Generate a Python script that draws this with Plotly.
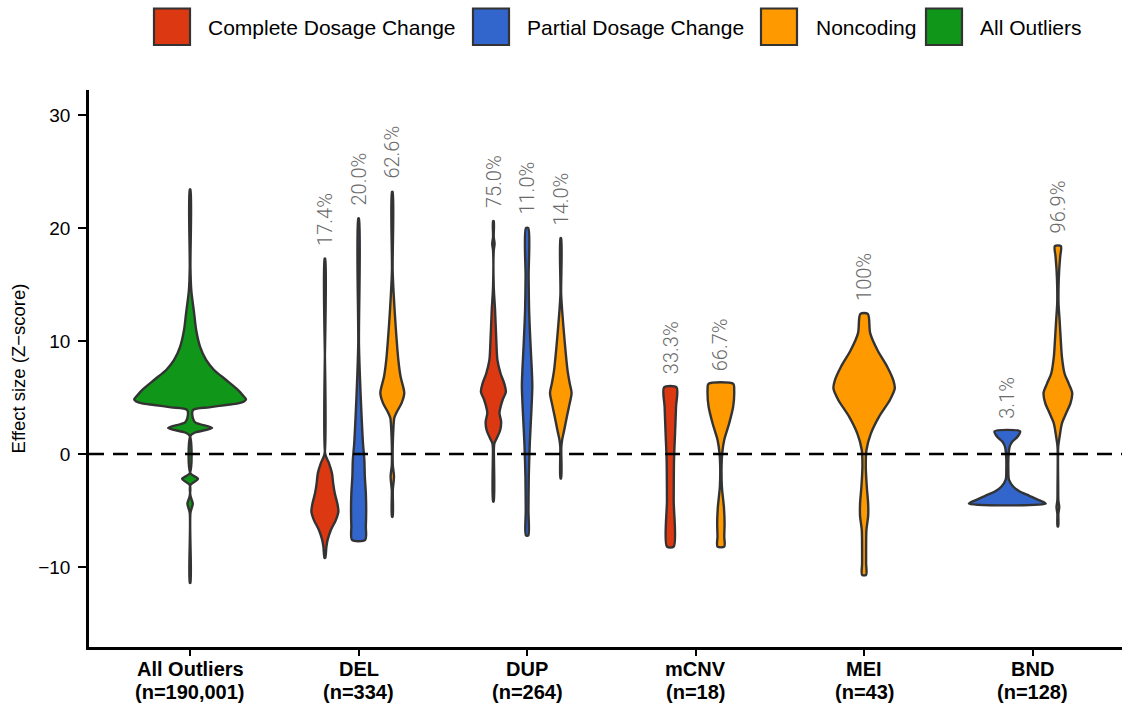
import plotly.graph_objects as go

# ---- categories and labels ----
CATEGORIES = ["All Outliers", "DEL", "DUP", "mCNV", "MEI", "BND"]
CATEGORY_N = ["190,001", "334", "264", "18", "43", "128"]
CLASSES = ["Complete Dosage Change", "Partial Dosage Change", "Noncoding", "All Outliers"]
CLASS_COLORS = ["#DC3912", "#3366CC", "#FF9900", "#109618"]

# ---- violin density profiles: Z-score grid and half-width (category units) ----
all_z = [-11.4, -5.2, -4.4, -3.7, -2.75, -2.2, -1.7, 1.6, 1.9, 2.3, 2.8, 3.2, 3.9, 4.13, 4.34,
         4.48, 4.65, 4.85, 5.07, 5.66, 6.55, 7.43, 8.32, 9.5, 10.97, 12.45, 14.5, 16.5, 23.4]
all_w = [0.002, 0.002, 0.016, 0.002, 0.002, 0.047, 0.002, 0.002, 0.030, 0.131, 0.030, 0.016, 0.018,
         0.113, 0.214, 0.285, 0.320, 0.332, 0.320, 0.285, 0.214, 0.142, 0.095, 0.059, 0.036, 0.024,
         0.007, 0.002, 0.002]

del_complete_z = [-9.2, -8.2, -7.6, -6.7, -5.85, -5.1, -4.4, -3.5, -2.6, -1.7, -0.8, 0.0, 17.3]
del_complete_w = [0.002, 0.009, 0.016, 0.036, 0.065, 0.080, 0.074, 0.059, 0.049, 0.042, 0.024, 0.002, 0.002]

del_partial_z = [-7.6, -6.4, -5.0, -3.5, -2.0, -0.5, 0.95, 3.9, 6.8, 9.8, 20.85]
del_partial_w = [0.039, 0.043, 0.045, 0.043, 0.037, 0.034, 0.026, 0.016, 0.008, 0.002, 0.002]

del_noncoding_z = [-5.55, -3.2, -2.0, -1.0, 0.0, 0.95, 2.1, 3.2, 3.7, 4.5, 5.4, 6.85, 8.3, 11.3, 14.2, 16.3, 23.2]
del_noncoding_w = [0.002, 0.003, 0.010, 0.003, 0.002, 0.003, 0.006, 0.012, 0.026, 0.055, 0.071, 0.049, 0.036,
                   0.020, 0.008, 0.002, 0.002]

dup_complete_z = [-4.2, 0.5, 0.95, 1.4, 2.1, 2.85, 3.6, 4.0, 4.8, 5.5, 6.25, 7.1, 8.3, 9.8, 12.7, 14.8,
                  18.0, 18.6, 19.2, 20.6]
dup_complete_w = [0.002, 0.003, 0.006, 0.020, 0.040, 0.046, 0.036, 0.040, 0.055, 0.074, 0.064, 0.043, 0.024,
                  0.018, 0.010, 0.002, 0.002, 0.007, 0.002, 0.002]

dup_partial_z = [-7.2, -5.0, -2.0, 0.95, 4.0, 6.0, 7.4, 9.8, 12.7, 15.7, 20.0]
dup_partial_w = [0.007, 0.008, 0.010, 0.016, 0.026, 0.031, 0.028, 0.020, 0.012, 0.009, 0.007]

dup_noncoding_z = [-2.15, 0.6, 1.25, 2.1, 3.3, 4.5, 5.4, 6.25, 7.4, 9.8, 12.7, 14.2, 19.1]
dup_noncoding_w = [0.002, 0.003, 0.008, 0.020, 0.036, 0.053, 0.064, 0.053, 0.040, 0.024, 0.008, 0.002, 0.002]

mcnv_complete_z = [-8.2, -4.1, -0.5, 1.8, 4.2, 5.9]
mcnv_complete_w = [0.020, 0.020, 0.022, 0.028, 0.034, 0.037]

mcnv_noncoding_z = [-8.2, -7.3, -6.1, -4.7, -2.9, -1.1, 0.05, 1.25, 2.7, 4.2, 5.65, 6.2]
mcnv_noncoding_w = [0.020, 0.020, 0.022, 0.018, 0.006, 0.004, 0.008, 0.020, 0.049, 0.073, 0.079, 0.074]

mei_noncoding_z = [-10.7, -9.7, -8.2, -6.7, -5.5, -4.4, -2.9, -1.1, 0.35, 1.8, 3.3, 4.8, 5.8, 6.5,
                   7.7, 9.2, 10.7, 12.4]
mei_noncoding_w = [0.012, 0.012, 0.012, 0.014, 0.024, 0.024, 0.016, 0.010, 0.014, 0.040, 0.089, 0.154,
                   0.182, 0.174, 0.138, 0.079, 0.036, 0.022]

bnd_partial_z = [-4.4, -4.1, -3.7, -3.3, -2.9, -2.3, -1.4, 0.05, 0.65, 1.1, 1.5, 2.0]
bnd_partial_w = [0.228, 0.190, 0.131, 0.071, 0.036, 0.010, 0.006, 0.008, 0.014, 0.030, 0.059, 0.076]

bnd_noncoding_z = [-6.4, -5.3, -4.7, -4.1, -2.9, 0.6, 1.5, 2.7, 3.6, 4.5, 5.4, 6.25, 7.1, 8.6, 10.4,
                   11.9, 13.3, 14.8, 16.3, 17.5, 18.4]
bnd_noncoding_w = [0.002, 0.003, 0.008, 0.003, 0.002, 0.002, 0.010, 0.024, 0.049, 0.075, 0.085, 0.064,
                   0.040, 0.024, 0.016, 0.010, 0.004, 0.004, 0.008, 0.014, 0.018]

# share of each SV class within its category
del_pct = ["17.4%", "20.0%", "62.6%"]
dup_pct = ["75.0%", "11.0%", "14.0%"]
mcnv_pct = ["33.3%", "66.7%"]
mei_pct = ["100%"]
bnd_pct = ["3.1%", "96.9%"]

# (category, class index, percent label, z grid, half-widths)
VIOLINS = [
    ("All Outliers", 3, None, all_z, all_w),
    ("DEL", 0, del_pct[0], del_complete_z, del_complete_w),
    ("DEL", 1, del_pct[1], del_partial_z, del_partial_w),
    ("DEL", 2, del_pct[2], del_noncoding_z, del_noncoding_w),
    ("DUP", 0, dup_pct[0], dup_complete_z, dup_complete_w),
    ("DUP", 1, dup_pct[1], dup_partial_z, dup_partial_w),
    ("DUP", 2, dup_pct[2], dup_noncoding_z, dup_noncoding_w),
    ("mCNV", 0, mcnv_pct[0], mcnv_complete_z, mcnv_complete_w),
    ("mCNV", 2, mcnv_pct[1], mcnv_noncoding_z, mcnv_noncoding_w),
    ("MEI", 2, mei_pct[0], mei_noncoding_z, mei_noncoding_w),
    ("BND", 1, bnd_pct[0], bnd_partial_z, bnd_partial_w),
    ("BND", 2, bnd_pct[1], bnd_noncoding_z, bnd_noncoding_w),
]

DODGE_WIDTH = 0.6
OUTLINE = "#333333"
SANS = "Liberation Sans, Arial, Helvetica, sans-serif"

fig = go.Figure()
annotations = []

for cat in CATEGORIES:
    group = [v for v in VIOLINS if v[0] == cat]
    n = len(group)
    base = CATEGORIES.index(cat) + 1
    for i, (_, cls, pct, z, w) in enumerate(group):
        cx = base + (i - (n - 1) / 2) * DODGE_WIDTH / n
        xs = [cx + h for h in w] + [cx - h for h in reversed(w)]
        ys = list(z) + list(reversed(z))
        xs.append(xs[0])
        ys.append(ys[0])
        fig.add_trace(go.Scatter(
            x=xs, y=ys, mode="lines", fill="toself",
            fillcolor=CLASS_COLORS[cls],
            line=dict(color=OUTLINE, width=2.4, shape="spline", smoothing=0.8),
            showlegend=False, hoverinfo="skip",
        ))
        if pct is not None:
            annotations.append(dict(
                x=cx, y=max(z), xref="x", yref="y", text=pct, textangle=-90,
                showarrow=False, xanchor="center", yanchor="bottom", yshift=11,
                font=dict(family="Roboto, Liberation Sans, sans-serif", size=20,
                          color="#6a6a6a", weight=300),
            ))

# ---- plot-area geometry in pixels (used for paper-coordinate placement) ----
L, T, PW, PH = 89, 90, 1033, 557


def px_x(p):
    return (p - L) / PW


def px_y(p):
    return (T + PH - p) / PH


# ---- legend with large square keys ----
legend_box_left = [154, 473, 761, 926]
legend_text_left = [206, 525, 814, 978]
shapes = []
for k, cls in enumerate(CLASSES):
    x0 = legend_box_left[k]
    shapes.append(dict(
        type="rect", xref="paper", yref="paper",
        x0=px_x(x0), x1=px_x(x0 + 36), y0=px_y(45), y1=px_y(8.5),
        fillcolor=CLASS_COLORS[k], line=dict(color=OUTLINE, width=2.2),
    ))
    annotations.append(dict(
        x=px_x(legend_text_left[k]), y=px_y(27), xref="paper", yref="paper", text=cls,
        showarrow=False, xanchor="left", yanchor="middle",
        font=dict(family=SANS, size=21, color="black"),
    ))

# ---- two-line category labels under the x axis ----
for k, (c, nn) in enumerate(zip(CATEGORIES, CATEGORY_N)):
    annotations.append(dict(
        x=k + 1, y=px_y(669), xref="x", yref="paper", text=f"<b>{c}</b>",
        showarrow=False, xanchor="center", yanchor="middle",
        font=dict(family=SANS, size=20, color="black"),
    ))
    annotations.append(dict(
        x=k + 1, y=px_y(692), xref="x", yref="paper", text=f"<b>(n={nn})</b>",
        showarrow=False, xanchor="center", yanchor="middle",
        font=dict(family=SANS, size=20, color="black"),
    ))

# dashed zero reference line
shapes.append(dict(
    type="line", xref="paper", yref="y", x0=0, x1=1, y0=0, y1=0, layer="above",
    line=dict(color="black", width=2.5, dash="15px,9px"),
))

fig.update_layout(
    width=1122, height=707,
    margin=dict(l=L, r=0, t=T, b=707 - T - PH),
    paper_bgcolor="white", plot_bgcolor="white",
    font=dict(family=SANS, color="black"),
    showlegend=False,
    shapes=shapes,
    annotations=annotations,
    xaxis=dict(
        range=[0.4, 0.4 + PW / 168.5], tickvals=list(range(1, 7)), showticklabels=False,
        showline=True, linecolor="black", linewidth=2.5, ticks="outside", ticklen=6,
        tickwidth=1.5, tickcolor="black", showgrid=False, zeroline=False,
    ),
    yaxis=dict(
        range=[-17.08, 32.21], tickvals=[-10, 0, 10, 20, 30],
        showline=True, linecolor="black", linewidth=2.5, ticks="outside", ticklen=8,
        tickwidth=1.5, tickcolor="black", showgrid=False, zeroline=False,
        ticklabelstandoff=4,
        tickfont=dict(size=19, color="black"),
        title=dict(text="Effect size (Z\u2212score)", font=dict(size=18.5), standoff=8),
    ),
)

fig.write_html("out.html")
